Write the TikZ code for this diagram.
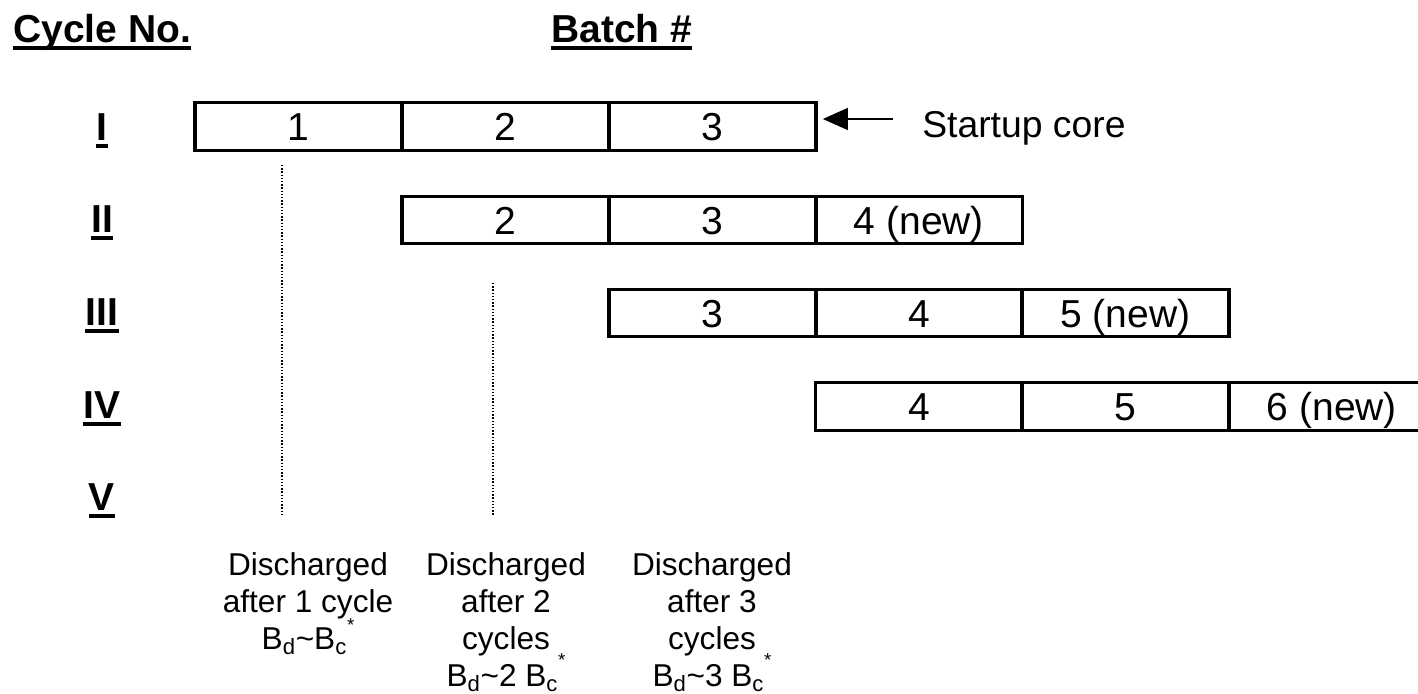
\documentclass[tikz,border=0pt]{standalone}
\usepackage{fontspec}
\setmainfont{Liberation Sans}
\usetikzlibrary{arrows.meta}
\begin{document}
\begin{tikzpicture}[x=0.75pt,y=-0.75pt,
  cell/.style={draw,line width=2.3pt,minimum width=155.25pt,minimum height=35.5pt,inner sep=0pt,text height=22pt,text depth=1pt,font=\fontsize{29.25}{34}\selectfont},
  head/.style={inner sep=0pt,font=\fontsize{29.25}{34}\selectfont\bfseries},
  ul/.style={line width=3pt},
  note/.style={inner sep=0pt,align=center,anchor=north,font=\fontsize{23.7}{27.75}\selectfont},
  dots/.style={line width=1.6pt,dash pattern=on 1.1pt off 1.3pt},
  lbl/.style={inner sep=0pt,font=\fontsize{28}{34}\selectfont},
  arr/.style={line width=1.1pt,-{Triangle[length=18.75pt,width=16.5pt]},shorten >=4pt}]
\useasboundingbox (0,0) rectangle (1418,693);
\clip (0,0) rectangle (1418,693);
% headings
\node[head,anchor=base west] (tcyc) at (13,42) {Cycle No.};
\draw[ul] ([yshift=-4.5pt]tcyc.base west) -- ([yshift=-4.5pt]tcyc.base east);
\node[head,anchor=base west] (tbat) at (551,42) {Batch \#};
\draw[ul] ([yshift=-4.5pt]tbat.base west) -- ([yshift=-4.5pt]tbat.base east);
% roman labels
\foreach \r/\yy in {I/140,II/232,III/325,IV/418,V/510}{
  \node[head,anchor=base] (r\r) at (102,\yy) {\r};
  \draw[ul] ([yshift=-4.5pt]r\r.base west) -- ([yshift=-4.5pt]r\r.base east);
}
% row I
\node[cell] (a1) at (298.5,126.5) {1};
\node[cell] (a2) at (505.5,126.5) {2};
\node[cell] (a3) at (712.5,126.5) {3};
% row II
\node[cell] (b2) at (505.5,220) {2};
\node[cell] (b3) at (712.5,220) {3};
\node[cell] (b4) at (919,220) {4 (new)};
% row III
\node[cell] (c3) at (712.5,313) {3};
\node[cell] (c4) at (919,313) {4};
\node[cell] (c5) at (1125.5,313) {5 (new)};
% row IV
\node[cell] (d4) at (919,406.5) {4};
\node[cell] (d5) at (1125.5,406.5) {5};
\node[cell] (d6) at (1332,406.5) {6 (new)};
% startup arrow
\node[lbl,anchor=west] (start) at (922,128) {Startup core};
\coordinate (arrS) at (893,119);
\draw[arr] (arrS) -- (arrS -| a3.east);
% dotted lines
\coordinate (p1a) at (282,165);
\coordinate (p1b) at (282,515);
\draw[dots] (p1a) -- (p1b);
\coordinate (p2a) at (493,283);
\coordinate (p2b) at (493,515);
\draw[dots] (p2a) -- (p2b);
% notes
\node[note] (n1) at (308,552) {Discharged\\after 1 cycle\\B\textsubscript{d}\textasciitilde B\textsubscript{c}\raisebox{13pt}[0pt][0pt]{\fontsize{14}{14}\selectfont *}};
\node[note] (n2) at (506,552) {Discharged\\after 2\\cycles\\B\textsubscript{d}\textasciitilde 2 B\textsubscript{c}\raisebox{15pt}[0pt][0pt]{\fontsize{14}{14}\selectfont *}};
\node[note] (n3) at (712,552) {Discharged\\after 3\\cycles\\B\textsubscript{d}\textasciitilde 3 B\textsubscript{c}\raisebox{15pt}[0pt][0pt]{\fontsize{14}{14}\selectfont *}};
\end{tikzpicture}
\end{document}
